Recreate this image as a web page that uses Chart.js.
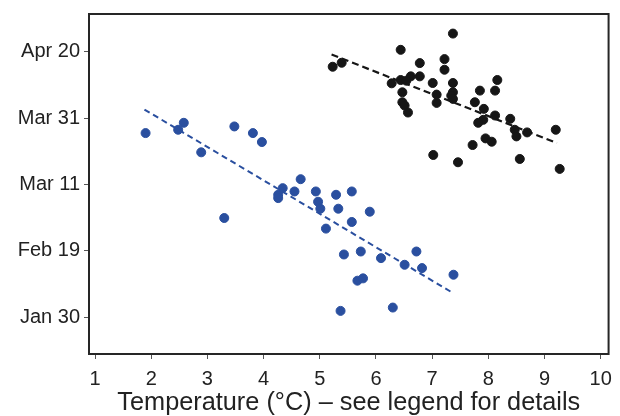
<!DOCTYPE html>
<html>
<head>
<meta charset="utf-8">
<script src="https://cdn.jsdelivr.net/npm/chart.js@4.4.1/dist/chart.umd.min.js"></script>
<style>
  html, body { margin: 0; padding: 0; background: #fff; }
  #wrap { width: 620px; height: 416px; }
</style>
</head>
<body>
<div id="wrap"><canvas id="grafico" width="620" height="416"></canvas></div>
<script>
// temperatura (°C) e dia do ano para cada ponto
const azulX = [1.90, 2.48, 2.58, 2.89, 3.48, 3.81, 3.97, 3.30, 4.26, 4.26, 4.34, 4.55, 4.66,
  4.93, 4.97, 5.01, 5.29, 5.33, 5.57, 5.57, 5.89, 5.11, 5.43, 5.73, 6.09, 6.51, 6.72, 6.82,
  7.38, 5.67, 5.77, 5.37, 6.30];
const azulY = [85.5, 86.5, 88.6, 79.7, 87.5, 85.5, 82.8, 59.9, 66.9, 65.9, 68.9, 67.9, 71.6,
  67.9, 64.8, 62.7, 66.9, 62.7, 67.9, 58.7, 61.8, 56.7, 48.9, 49.8, 47.8, 45.8, 49.8, 44.8,
  42.8, 41.0, 41.7, 31.9, 32.9];

const pretoX = [5.23, 5.39, 6.44, 7.37, 7.22, 7.22, 6.78, 6.78, 6.62, 6.44, 6.54, 6.28, 7.01,
  7.37, 6.47, 6.47, 6.51, 6.57, 7.08, 7.08, 7.37, 7.34, 7.37, 7.85, 8.16, 8.12, 7.76, 7.92,
  7.91, 7.82, 8.12, 8.39, 8.47, 8.50, 8.69, 9.20, 7.95, 8.06, 7.72, 7.02, 7.46, 8.56, 9.27];
const pretoY = [105.5, 106.7, 110.6, 115.5, 107.8, 104.6, 106.6, 102.6, 102.6, 101.5, 101.3,
  100.5, 100.6, 100.6, 97.8, 94.8, 93.8, 91.7, 97.1, 94.6, 97.8, 96.8, 95.8, 98.3, 101.5, 98.3,
  94.8, 92.8, 89.5, 88.6, 90.8, 89.8, 86.5, 84.5, 85.7, 86.5, 83.9, 82.9, 81.9, 78.9, 76.7,
  77.7, 74.7];

// linhas de tendência (extremos)
const tendAzulX = [1.88, 7.36];
const tendAzulY = [92.6, 37.4];
const tendPretoX = [5.21, 9.22];
const tendPretoY = [109.2, 82.5];

const ticksX = [1, 2, 3, 4, 5, 6, 7, 8, 9, 10];
const ticksY = [30, 50, 70, 90, 110];
const rotulosY = ["Jan 30", "Feb 19", "Mar 11", "Mar 31", "Apr 20"];

const pares = (xs, ys) => xs.map((x, i) => ({ x, y: ys[i] }));

const AZUL = "#2a4f9f";
const PRETO = "#161616";
const fonte = "'Liberation Sans', Arial, sans-serif";

const moldura = {
  id: "moldura",
  afterDraw(c) {
    const { ctx, chartArea: a } = c;
    ctx.save();
    ctx.strokeStyle = "#262626";
    ctx.lineWidth = 2;
    ctx.strokeRect(a.left, a.top, a.right - a.left, a.bottom - a.top);
    ctx.restore();
  }
};

new Chart(grafico, {
  type: "scatter",
  data: {
    datasets: [
      { data: pares(pretoX, pretoY), backgroundColor: PRETO, borderColor: PRETO, pointRadius: 4.5, pointHoverRadius: 4.5 },
      { data: pares(azulX, azulY), backgroundColor: AZUL, borderColor: AZUL, pointRadius: 4.5, pointHoverRadius: 4.5 },
      { type: "line", data: pares(tendPretoX, tendPretoY), borderColor: PRETO, borderWidth: 2.2, borderDash: [7, 4], pointRadius: 0, fill: false },
      { type: "line", data: pares(tendAzulX, tendAzulY), borderColor: AZUL, borderWidth: 2, borderDash: [6, 4], pointRadius: 0, fill: false }
    ]
  },
  options: {
    responsive: false,
    animation: false,
    events: [],
    layout: { padding: { left: 0, right: 11, top: 13, bottom: 0 } },
    plugins: { legend: { display: false }, tooltip: { enabled: false } },
    scales: {
      x: {
        type: "linear",
        min: 0.893, max: 10.14,
        afterBuildTicks: s => { s.ticks = ticksX.map(v => ({ value: v })); },
        afterFit: s => { s.height = 62; },
        border: { display: false },
        grid: { drawOnChartArea: false, drawTicks: true, tickLength: 5, color: "#555", lineWidth: 1 },
        ticks: { color: "#222", font: { family: fonte, size: 20 }, padding: 8, maxRotation: 0, autoSkip: false },
        title: { display: true, text: "Temperature (°C) – see legend for details", color: "#222",
          font: { family: fonte, size: 25.3, lineHeight: 1.0 }, padding: { top: 0, bottom: 0 } }
      },
      y: {
        type: "linear",
        min: 18.9, max: 121.4,
        afterBuildTicks: s => { s.ticks = ticksY.map(v => ({ value: v })); },
        afterFit: s => { s.width = 89; },
        border: { display: false },
        grid: { drawOnChartArea: false, drawTicks: true, tickLength: 5, color: "#555", lineWidth: 1 },
        ticks: {
          color: "#222", font: { family: fonte, size: 20, lineHeight: 1.0 }, padding: 4, autoSkip: false,
          callback: v => rotulosY[ticksY.indexOf(v)]
        }
      }
    }
  },
  plugins: [moldura]
});
</script>
</body>
</html>
